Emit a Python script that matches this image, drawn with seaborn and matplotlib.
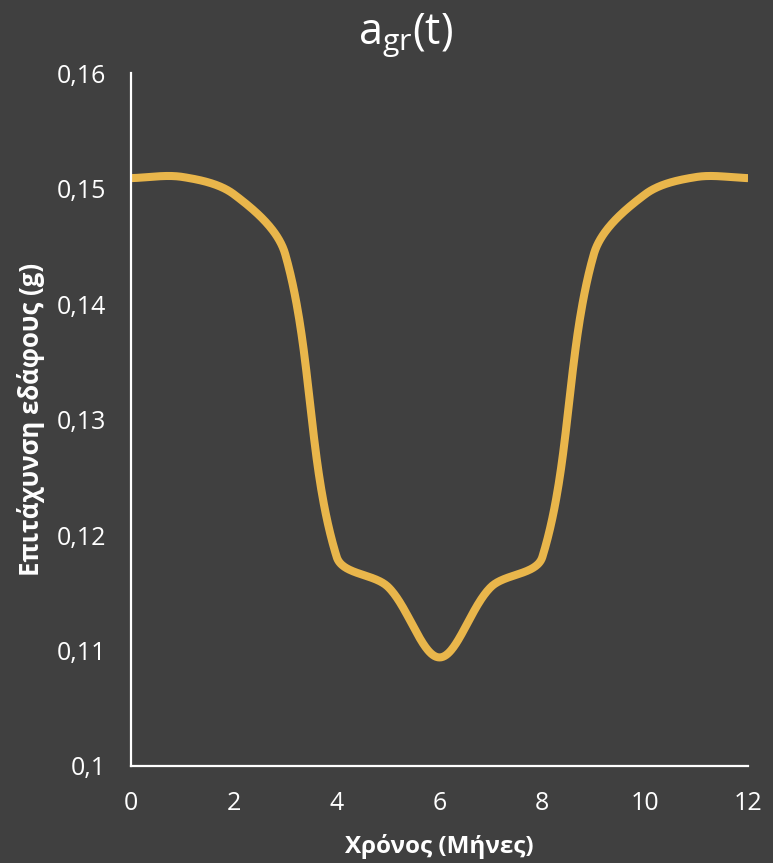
import numpy as np
import pandas as pd
import matplotlib
matplotlib.use("Agg")
import matplotlib.pyplot as plt
import seaborn as sns

# Monthly ground acceleration values (g)
months = [0, 1, 2, 3, 4, 5, 6, 7, 8, 9, 10, 11, 12]
accel = [0.1509, 0.1510, 0.1495, 0.1443, 0.1181, 0.1155, 0.1094,
         0.1155, 0.1181, 0.1443, 0.1495, 0.1510, 0.1509]
y_ticks = [0.10, 0.11, 0.12, 0.13, 0.14, 0.15, 0.16]
y_tick_labels = ["0,1", "0,11", "0,12", "0,13", "0,14", "0,15", "0,16"]
x_ticks = [0, 2, 4, 6, 8, 10, 12]

BG = "#404040"
FG = "#FFFFFF"
LINE = "#E9B64B"

FIG_W, FIG_H, DPI = 7.73, 8.63, 100
AX_RECT = [0.1695, 0.1124, 0.7982, 0.8030]
X_LIM, Y_LIM = (0, 12), (0.10, 0.16)


def smooth_curve(x, y, x_scale, y_scale, steps=60):
    """Smoothed line through the points: cubic Bezier segments whose
    control arms are weighted by neighbouring chord lengths in screen space."""
    p = np.column_stack([np.asarray(x, float) * x_scale,
                         np.asarray(y, float) * y_scale])
    n = len(p)
    ext = np.vstack([p[0], p, p[-1]])
    out = []
    t = np.linspace(0, 1, steps, endpoint=False)[:, None]
    for i in range(n - 1):
        p0, p1, p2, p3 = ext[i], ext[i + 1], ext[i + 2], ext[i + 3]
        d01 = np.linalg.norm(p1 - p0)
        d12 = np.linalg.norm(p2 - p1)
        d23 = np.linalg.norm(p3 - p2)
        w1 = d12 / (d01 + d12) if d01 + d12 > 0 else 0.5
        w2 = d12 / (d12 + d23) if d12 + d23 > 0 else 0.5
        c1 = p1 + (p2 - p0) * w1 / 3
        c2 = p2 - (p3 - p1) * w2 / 3
        seg = ((1 - t) ** 3 * p1 + 3 * (1 - t) ** 2 * t * c1
               + 3 * (1 - t) * t ** 2 * c2 + t ** 3 * p2)
        out.append(seg)
    out.append(p[-1][None, :])
    pts = np.vstack(out)
    return pts[:, 0] / x_scale, pts[:, 1] / y_scale


sns.set_theme(style="white")
plt.rcParams["font.family"] = ["Open Sans", "DejaVu Sans"]
plt.rcParams["mathtext.fontset"] = "custom"
plt.rcParams["mathtext.rm"] = "Open Sans"

fig = plt.figure(figsize=(FIG_W, FIG_H), dpi=DPI, facecolor=BG)
ax = fig.add_axes(AX_RECT, facecolor=BG)

# pixels per data unit, so the smoothing is done on the drawn shape
px_x = FIG_W * DPI * AX_RECT[2] / (X_LIM[1] - X_LIM[0])
px_y = FIG_H * DPI * AX_RECT[3] / (Y_LIM[1] - Y_LIM[0])
sx, sy = smooth_curve(months, accel, px_x, px_y)
df = pd.DataFrame({"Μήνας": sx, "a": sy})
sns.lineplot(data=df, x="Μήνας", y="a", ax=ax, color=LINE, linewidth=5.8,
             sort=False, estimator=None, solid_capstyle="butt")

ax.set_xlim(*X_LIM)
ax.set_ylim(*Y_LIM)
ax.set_xticks(x_ticks)
ax.set_xticklabels([str(v) for v in x_ticks])
ax.set_yticks(y_ticks)
ax.set_yticklabels(y_tick_labels)
ax.tick_params(axis="both", length=0, colors=FG, labelsize=18, pad=18)

for side in ("top", "right"):
    ax.spines[side].set_visible(False)
for side in ("left", "bottom"):
    ax.spines[side].set_color(FG)
    ax.spines[side].set_linewidth(1.6)
ax.grid(False)

ax.set_xlabel("Χρόνος (Μήνες)", color=FG, fontsize=17.5, fontweight="bold")
ax.set_ylabel("Επιτάχυνση εδάφους (g)", color=FG, fontsize=18.5,
              fontweight="bold")
ax.xaxis.label.set_va("center")
ax.yaxis.label.set_va("center")
ax.xaxis.set_label_coords(0.5, -(847 - 766) / 693)
ax.yaxis.set_label_coords(-(131 - 31) / 617, 0.5)

fig.text(0.525, 0.958, r"a$_{\mathregular{gr}}$(t)", color=FG, fontsize=31,
         ha="center", va="center")

fig.savefig("out.png", dpi=DPI, facecolor=BG)
